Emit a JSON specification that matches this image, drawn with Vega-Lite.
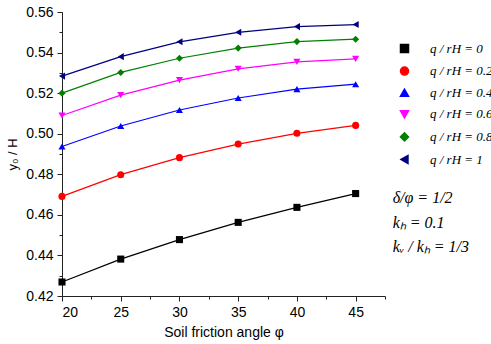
{
  "$schema": "https://vega.github.io/schema/vega-lite/v6.json",
  "autosize": "none",
  "width": 323,
  "height": 284,
  "padding": {"left": 62, "top": 12, "right": 106, "bottom": 48},
  "background": "white",
  "config": {"view": {"stroke": null}, "axis": {"grid": false, "domainColor": "#222", "tickColor": "#222", "labelColor": "#000", "titleColor": "#000", "labelFont": "Liberation Sans", "titleFont": "Liberation Sans", "titleFontWeight": "normal"}},
  "data": {"values": [
    {"phi": 20, "q": "0", "y": 0.4269}, {"phi": 25, "q": "0", "y": 0.4382}, {"phi": 30, "q": "0", "y": 0.4478}, {"phi": 35, "q": "0", "y": 0.4563}, {"phi": 40, "q": "0", "y": 0.4637}, {"phi": 45, "q": "0", "y": 0.4705},
    {"phi": 20, "q": "0.2", "y": 0.4691}, {"phi": 25, "q": "0.2", "y": 0.4798}, {"phi": 30, "q": "0.2", "y": 0.4882}, {"phi": 35, "q": "0.2", "y": 0.4949}, {"phi": 40, "q": "0.2", "y": 0.5002}, {"phi": 45, "q": "0.2", "y": 0.5041},
    {"phi": 20, "q": "0.4", "y": 0.4937}, {"phi": 25, "q": "0.4", "y": 0.5038}, {"phi": 30, "q": "0.4", "y": 0.5117}, {"phi": 35, "q": "0.4", "y": 0.5176}, {"phi": 40, "q": "0.4", "y": 0.5220}, {"phi": 45, "q": "0.4", "y": 0.5244},
    {"phi": 20, "q": "0.6", "y": 0.5090}, {"phi": 25, "q": "0.6", "y": 0.5190}, {"phi": 30, "q": "0.6", "y": 0.5264}, {"phi": 35, "q": "0.6", "y": 0.5320}, {"phi": 40, "q": "0.6", "y": 0.5354}, {"phi": 45, "q": "0.6", "y": 0.5369},
    {"phi": 20, "q": "0.8", "y": 0.5200}, {"phi": 25, "q": "0.8", "y": 0.5302}, {"phi": 30, "q": "0.8", "y": 0.5372}, {"phi": 35, "q": "0.8", "y": 0.5422}, {"phi": 40, "q": "0.8", "y": 0.5454}, {"phi": 45, "q": "0.8", "y": 0.5466},
    {"phi": 20, "q": "1", "y": 0.5284}, {"phi": 25, "q": "1", "y": 0.5380}, {"phi": 30, "q": "1", "y": 0.5453}, {"phi": 35, "q": "1", "y": 0.5500}, {"phi": 40, "q": "1", "y": 0.5528}, {"phi": 45, "q": "1", "y": 0.5538}
  ]},
  "layer": [
    {
      "mark": {"type": "line", "strokeWidth": 1.2},
      "encoding": {
        "x": {"field": "phi", "type": "quantitative", "scale": {"domain": [20, 47.5], "nice": false, "zero": false},
              "axis": {"orient": "bottom", "values": [20, 25, 30, 35, 40, 45], "tickSize": 5, "labelFontSize": 14, "labelPadding": 4, "title": "Soil friction angle    φ", "titleFontSize": 14, "titlePadding": 6}},
        "y": {"field": "y", "type": "quantitative", "scale": {"domain": [0.42, 0.56], "nice": false, "zero": false},
              "axis": {"orient": "left", "values": [0.42, 0.44, 0.46, 0.48, 0.5, 0.52, 0.54, 0.56], "format": ".2f", "tickSize": 5, "labelFontSize": 14, "labelPadding": 4, "title": "y₀ / H", "titleFontSize": 13, "titlePadding": 6}},
        "color": {"field": "q", "type": "nominal", "scale": {"domain": ["0", "0.2", "0.4", "0.6", "0.8", "1"], "range": ["#000000", "#FF0000", "#0000FF", "#FF00FF", "#008000", "#000080"]},
          "legend": {
            "orient": "right", "offset": 13, "title": " ", "titleFontSize": 14, "titlePadding": 16, "padding": 0,
            "symbolSize": 64, "rowPadding": 7.6, "labelOffset": 19,
            "labelFont": "Liberation Serif", "labelFontStyle": "italic", "labelFontSize": 13, "labelColor": "#000",
            "labelExpr": "'q / rH = ' + datum.label"
          }}
      }
    },
    {
      "mark": {"type": "point", "filled": true, "opacity": 1, "size": 50},
      "encoding": {
        "x": {"field": "phi", "type": "quantitative",
              "axis": {"orient": "bottom", "values": [22.5, 27.5, 32.5, 37.5, 42.5, 47.5], "labels": false, "domain": false, "tickSize": 3, "title": null}},
        "y": {"field": "y", "type": "quantitative",
              "axis": {"orient": "left", "values": [0.43, 0.45, 0.47, 0.49, 0.51, 0.53, 0.55], "labels": false, "domain": false, "tickSize": 3, "title": null}},
        "color": {"field": "q", "type": "nominal"},
        "shape": {"field": "q", "type": "nominal", "scale": {"domain": ["0", "0.2", "0.4", "0.6", "0.8", "1"], "range": ["square", "circle", "triangle-up", "triangle-down", "diamond", "triangle-left"]}}
      }
    },
    {
      "data": {"values": [
        {"tx": 48.15, "ty": 0.4685, "label": "δ/φ = 1/2"},
        {"tx": 48.15, "ty": 0.4562, "label": "kₕ = 0.1"},
        {"tx": 48.15, "ty": 0.4444, "label": "kᵥ / kₕ = 1/3"}
      ]},
      "mark": {"type": "text", "align": "left", "baseline": "middle", "font": "Liberation Serif", "fontStyle": "italic", "fontSize": 16, "color": "#000"},
      "encoding": {
        "x": {"field": "tx", "type": "quantitative", "axis": null},
        "y": {"field": "ty", "type": "quantitative", "axis": null},
        "text": {"field": "label"}
      }
    }
  ],
  "resolve": {"axis": {"x": "independent", "y": "independent"}}
}
